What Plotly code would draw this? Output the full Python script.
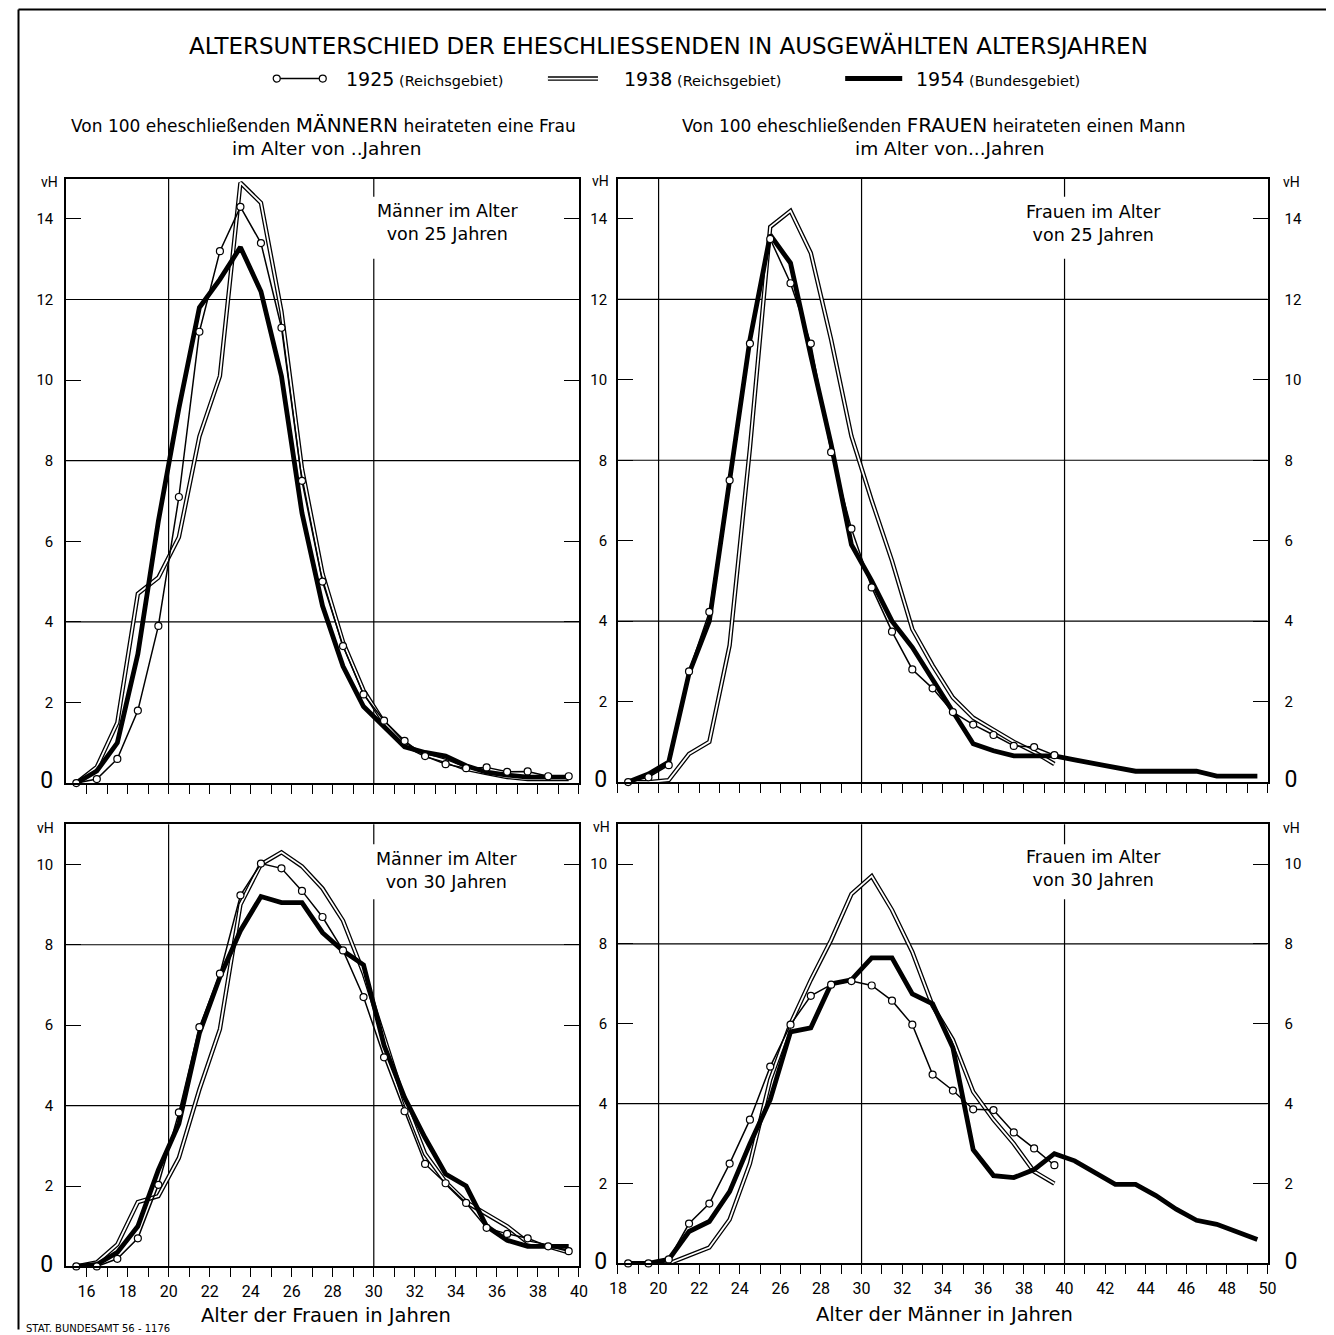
import plotly.graph_objects as go

W, H = 1334, 1335
# measured mapping between figure pixels and the photographed page
X0, KX = 17.5, 0.9857
Y0, KY = 7.5, 0.991

# ---------------- data (vH = per cent) ----------------
# ages in completed years; each value is drawn at the middle of its year
ages_women = list(range(15, 40))          # 15 .. 39
ages_men = list(range(18, 40))            # 18 .. 39   (1925, 1938)
ages_men_1954 = list(range(18, 50))       # 18 .. 49   (1954)

# Men aged 25 -> age of the bride
m25_1925 = [0.0, 0.1, 0.6, 1.8, 3.9, 7.1, 11.2, 13.2, 14.3, 13.4, 11.3, 7.5, 5.0, 3.4, 2.2,
            1.55, 1.05, 0.67, 0.47, 0.37, 0.39, 0.28, 0.29, 0.17, 0.17]
m25_1938 = [0.0, 0.4, 1.5, 4.7, 5.1, 6.1, 8.6, 10.1, 14.9, 14.4, 11.7, 7.8, 5.2, 3.5, 2.3,
            1.5, 0.95, 0.7, 0.55, 0.35, 0.25, 0.15, 0.1, 0.1, 0.1]
m25_1954 = [0.0, 0.3, 1.0, 3.2, 6.5, 9.3, 11.8, 12.5, 13.3, 12.2, 10.1, 6.7, 4.4, 2.9, 1.9,
            1.4, 0.9, 0.76, 0.67, 0.43, 0.27, 0.2, 0.15, 0.15, 0.15]

# Women aged 25 -> age of the groom
f25_1925 = [0.0, 0.12, 0.42, 2.75, 4.23, 7.5, 10.9, 13.5, 12.4, 10.9, 8.2, 6.3, 4.84, 3.74,
            2.8, 2.33, 1.74, 1.43, 1.17, 0.9, 0.87, 0.67]
f25_1938 = [0.0, 0.0, 0.05, 0.7, 1.0, 3.4, 8.3, 13.8, 14.2, 13.15, 11.0, 8.6, 7.0, 5.5,
            3.8, 2.9, 2.1, 1.6, 1.3, 1.0, 0.75, 0.45]
f25_1954 = [0.0, 0.2, 0.5, 2.7, 4.0, 7.4, 11.0, 13.6, 12.9, 10.6, 8.4, 5.9, 5.0, 4.0, 3.35,
            2.55, 1.75, 0.95, 0.78, 0.65, 0.65, 0.65, 0.55, 0.45, 0.35, 0.27, 0.27, 0.27,
            0.27, 0.15, 0.15, 0.15]

# Men aged 30 -> age of the bride
m30_1925 = [0.0, 0.0, 0.19, 0.7, 2.03, 3.83, 5.95, 7.28, 9.23, 10.02, 9.9, 9.34, 8.69, 7.86,
            6.7, 5.2, 3.86, 2.55, 2.07, 1.58, 0.96, 0.81, 0.7, 0.5, 0.38]
m30_1938 = [0.0, 0.1, 0.55, 1.6, 1.75, 2.7, 4.4, 5.9, 9.0, 10.0, 10.3, 9.95, 9.4, 8.6, 7.3,
            5.7, 4.1, 2.8, 2.1, 1.6, 1.3, 1.0, 0.6, 0.5, 0.35]
m30_1954 = [0.0, 0.05, 0.35, 1.0, 2.4, 3.55, 5.8, 7.2, 8.35, 9.2, 9.05, 9.05, 8.3, 7.85, 7.5,
            5.5, 4.2, 3.2, 2.3, 2.0, 1.0, 0.65, 0.5, 0.5, 0.5]

# Women aged 30 -> age of the groom
f30_1925 = [0.0, 0.0, 0.1, 1.0, 1.5, 2.5, 3.6, 4.93, 5.98, 6.7, 6.98, 7.07, 6.96, 6.58,
            5.98, 4.73, 4.33, 3.86, 3.84, 3.28, 2.88, 2.46]
f30_1938 = [0.0, 0.0, 0.0, 0.2, 0.4, 1.1, 2.5, 4.6, 6.0, 7.1, 8.1, 9.25, 9.7, 8.85, 7.8,
            6.45, 5.6, 4.3, 3.6, 3.0, 2.3, 2.0]
f30_1954 = [0.0, 0.0, 0.1, 0.8, 1.05, 1.8, 3.0, 4.1, 5.8, 5.9, 7.0, 7.1, 7.65, 7.65, 6.75,
            6.5, 5.4, 2.85, 2.2, 2.15, 2.35, 2.75, 2.57, 2.28, 1.98, 1.98, 1.7, 1.36, 1.08,
            0.98, 0.78, 0.6]

# axis ranges / ticks
x_range_women = [15, 40]
x_range_men = [18, 50]
x_ticks_women = list(range(16, 41))
x_ticks_men = list(range(18, 51))
x_grid_women = [20, 30]
x_grid_men = [20, 30, 40]
y_range_top = [0, 15]
y_range_bottom = [0, 11]
y_ticks_top = list(range(0, 15, 2))
y_ticks_bottom = list(range(0, 11, 2))
y_grid_top = [4, 8, 12]
y_grid_bottom = [4, 8]

title = "ALTERSUNTERSCHIED DER EHESCHLIESSENDEN IN AUSGEWÄHLTEN ALTERSJAHREN"
legend_years = ["1925", "1938", "1954"]
legend_areas = ["(Reichsgebiet)", "(Reichsgebiet)", "(Bundesgebiet)"]
panel_captions = ["Männer im Alter<br>von 25 Jahren", "Frauen im Alter<br>von 25 Jahren",
                  "Männer im Alter<br>von 30 Jahren", "Frauen im Alter<br>von 30 Jahren"]

SANS = "DejaVu Sans, Verdana, sans-serif"
NARROW = "Roboto, DejaVu Sans, sans-serif"


def mid(a):
    return [v + 0.5 for v in a]


def px(x):          # picture pixel -> paper fraction
    return ((x - X0) / KX) / W


def py(y):
    return 1 - ((y - Y0) / KY) / H


fig = go.Figure()


def add_panel(n, xs, d1925, d1938, xs54, d1954):
    xa = "x" if n == 1 else f"x{n}"
    ya = "y" if n == 1 else f"y{n}"
    common = dict(xaxis=xa, yaxis=ya, hoverinfo="skip", showlegend=False)
    fig.add_trace(go.Scatter(x=mid(xs), y=d1938, mode="lines",
                             line=dict(color="black", width=4.4), **common))
    fig.add_trace(go.Scatter(x=mid(xs), y=d1938, mode="lines",
                             line=dict(color="white", width=1.8), **common))
    fig.add_trace(go.Scatter(x=mid(xs54), y=d1954, mode="lines",
                             line=dict(color="black", width=4.8), **common))
    fig.add_trace(go.Scatter(x=mid(xs), y=d1925, mode="lines+markers",
                             line=dict(color="black", width=1.5),
                             marker=dict(symbol="circle", size=7, color="white",
                                         line=dict(color="black", width=1.2)),
                             cliponaxis=False, **common))


add_panel(1, ages_women, m25_1925, m25_1938, ages_women, m25_1954)
add_panel(2, ages_men, f25_1925, f25_1938, ages_men_1954, f25_1954)
add_panel(3, ages_women, m30_1925, m30_1938, ages_women, m30_1954)
add_panel(4, ages_men, f30_1925, f30_1938, ages_men_1954, f30_1954)

# invisible traces that carry the right-hand y axes of the right panels
fig.add_trace(go.Scatter(x=[x_range_men[0]], y=[0], mode="markers", marker=dict(opacity=0),
                         xaxis="x2", yaxis="y5", hoverinfo="skip", showlegend=False))
fig.add_trace(go.Scatter(x=[x_range_men[0]], y=[0], mode="markers", marker=dict(opacity=0),
                         xaxis="x4", yaxis="y6", hoverinfo="skip", showlegend=False))

L_X = [px(66.5), px(579)]
R_X = [px(618), px(1267)]
TL_Y = [py(782), py(178)]
TR_Y = [py(781), py(178)]
BL_Y = [py(1265), py(823)]
BR_Y = [py(1262), py(823)]


def zero_label(t):
    return "<span style='font-size:23px'>0</span>" if t == 0 else str(t)


def xcfg(dom, rng, ticks, show, anchor):
    return dict(domain=dom, range=rng, anchor=anchor, tickmode="array", tickvals=ticks,
                ticktext=[str(t) if t % 2 == 0 else "" for t in ticks],
                showticklabels=show, ticks="outside", ticklen=9, tickwidth=1.2,
                tickcolor="black", showline=True, linecolor="black", linewidth=1.8,
                mirror=True, showgrid=False, zeroline=False, ticklabelstandoff=0,
                tickfont=dict(family=NARROW, size=16, color="black"), fixedrange=True)


def ycfg(dom, rng, ticks, anchor, standoff):
    return dict(domain=dom, range=rng, anchor=anchor, tickmode="array", tickvals=ticks,
                ticktext=[zero_label(t) for t in ticks],
                ticks="inside", ticklen=15, tickwidth=1.2, tickcolor="black",
                showline=True, linecolor="black", linewidth=1.5, mirror="ticks",
                showgrid=False, zeroline=False, ticklabelstandoff=standoff,
                tickfont=dict(family=NARROW, size=15, color="black"), fixedrange=True)


def yright(rng, ticks, overlay, anchor):
    return dict(range=rng, overlaying=overlay, anchor=anchor, side="right",
                tickmode="array", tickvals=ticks, ticktext=[zero_label(t) for t in ticks],
                ticks="", showline=False, showgrid=False, zeroline=False,
                ticklabelstandoff=16,
                tickfont=dict(family=NARROW, size=15, color="black"), fixedrange=True)


fig.update_layout(
    width=W, height=H, margin=dict(l=0, r=0, t=0, b=0),
    paper_bgcolor="white", plot_bgcolor="white", showlegend=False,
    xaxis=xcfg(L_X, x_range_women, x_ticks_women, False, "y"),
    yaxis=ycfg(TL_Y, y_range_top, y_ticks_top, "x", 8),
    xaxis2=xcfg(R_X, x_range_men, x_ticks_men, False, "y2"),
    yaxis2=ycfg(TR_Y, y_range_top, y_ticks_top, "x2", 6),
    xaxis3=xcfg(L_X, x_range_women, x_ticks_women, True, "y3"),
    yaxis3=ycfg(BL_Y, y_range_bottom, y_ticks_bottom, "x3", 8),
    xaxis4=xcfg(R_X, x_range_men, x_ticks_men, True, "y4"),
    yaxis4=ycfg(BR_Y, y_range_bottom, y_ticks_bottom, "x4", 6),
    yaxis5=yright(y_range_top, y_ticks_top, "y2", "x2"),
    yaxis6=yright(y_range_bottom, y_ticks_bottom, "y4", "x4"),
)

# grid lines (drawn on the data scales)
shapes = []
for n, xg, yg in [(1, x_grid_women, y_grid_top), (2, x_grid_men, y_grid_top),
                  (3, x_grid_women, y_grid_bottom), (4, x_grid_men, y_grid_bottom)]:
    xa = "x" if n == 1 else f"x{n}"
    ya = "y" if n == 1 else f"y{n}"
    for g in xg:
        shapes.append(dict(type="line", xref=xa, yref=f"{ya} domain", x0=g, x1=g, y0=0, y1=1,
                           line=dict(color="black", width=1.2), layer="below"))
    for g in yg:
        shapes.append(dict(type="line", xref=f"{xa} domain", yref=ya, x0=0, x1=1, y0=g, y1=g,
                           line=dict(color="black", width=1.2), layer="below"))

# white boxes behind the panel captions (they interrupt the grid lines)
for x0, x1, y0, y1 in [(365, 530, 196, 258), (1012, 1172, 196, 258),
                       (365, 530, 843, 898), (1012, 1172, 843, 898)]:
    shapes.append(dict(type="rect", xref="paper", yref="paper", x0=px(x0), x1=px(x1),
                       y0=py(y1), y1=py(y0), fillcolor="white", line=dict(width=0),
                       layer="below"))

# outer frame (left, top, right)
FL, FT, FR, FB = 19, 9, 1329, 1328
for x0, y0, x1, y1 in [(FL, FB, FL, FT), (FL, FT, FR, FT), (FR, FB, FR, FT)]:
    shapes.append(dict(type="line", xref="paper", yref="paper", x0=px(x0), x1=px(x1),
                       y0=py(y0), y1=py(y1), line=dict(color="black", width=2)))

# legend symbols
LY = py(78)
shapes.append(dict(type="line", xref="paper", yref="paper", x0=px(277), x1=px(323),
                   y0=LY, y1=LY, line=dict(color="black", width=1.6)))
for cx in (277, 323):
    shapes.append(dict(type="circle", xref="paper", yref="paper", x0=px(cx - 3.5),
                       x1=px(cx + 3.5), y0=py(81.5), y1=py(74.5), fillcolor="white",
                       line=dict(color="black", width=1.2)))
shapes.append(dict(type="line", xref="paper", yref="paper", x0=px(548), x1=px(598),
                   y0=LY, y1=LY, line=dict(color="black", width=4.4)))
shapes.append(dict(type="line", xref="paper", yref="paper", x0=px(548), x1=px(598),
                   y0=LY, y1=LY, line=dict(color="white", width=1.8)))
shapes.append(dict(type="line", xref="paper", yref="paper", x0=px(845), x1=px(902),
                   y0=LY, y1=LY, line=dict(color="black", width=5)))
fig.update_layout(shapes=shapes)

ann = []


def text(x, y, s, size, family=SANS, xanchor="center", yanchor="middle"):
    ann.append(dict(x=px(x), y=py(y), xref="paper", yref="paper", text=s, showarrow=False,
                    xanchor=xanchor, yanchor=yanchor,
                    font=dict(family=family, size=size, color="black")))


text(668, 45, title, 23)
for x0, yr, ar in [(344, legend_years[0], legend_areas[0]), (622, legend_years[1], legend_areas[1]),
                   (914, legend_years[2], legend_areas[2])]:
    text(x0, 78, f"{yr}<span style='font-size:14.5px'> {ar}</span>", 19, xanchor="left")

text(324, 124, "Von 100 eheschließenden <span style='font-size:20px'>MÄNNERN</span> "
               "heirateten eine Frau", 17)
text(327, 148, "im Alter von ..Jahren", 18.5)
text(934, 124, "Von 100 eheschließenden <span style='font-size:20px'>FRAUEN</span> "
               "heirateten einen Mann", 17)
text(949, 148, "im Alter von...Jahren", 18.5)

# panel captions
for (x, y), s in zip([(448, 222), (1093, 223), (447, 869), (1093, 867)], panel_captions):
    text(x, y, s, 17.5)

# unit labels
for x, y in [(50, 181), (601, 180), (1291, 181), (46, 827), (602, 826), (1291, 827)]:
    text(x, y, "vH", 14, family=NARROW)

text(326, 1314, "Alter der Frauen in Jahren", 19.5)
text(944, 1313, "Alter der Männer in Jahren", 19.5)
text(24, 1327, "STAT. BUNDESAMT 56 - 1176", 10, xanchor="left")

fig.update_layout(annotations=ann)

fig.write_html("out.html")
